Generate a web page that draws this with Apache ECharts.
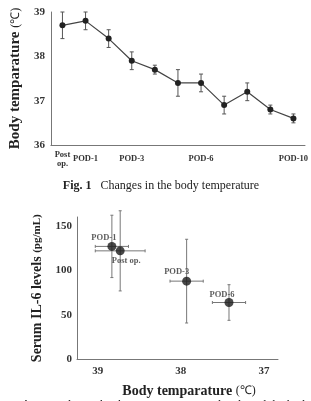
<!DOCTYPE html>
<html><head><meta charset="utf-8">
<script src="https://cdn.jsdelivr.net/npm/echarts@6/dist/echarts.min.js"></script>
<style>html,body{margin:0;padding:0;background:#fff}#c{width:311px;height:401px}</style>
</head><body><div id="c"></div>
<script>
// ---- Fig. 1 data ----
const days = ['Post\nop.','POD-1','POD-2','POD-3','POD-4','POD-5','POD-6','POD-7','POD-8','POD-9','POD-10'];
const shownDayLabels = ['Post\nop.','POD-1','POD-3','POD-6','POD-10'];
const bodyTemp = [38.7, 38.8, 38.4, 37.9, 37.7, 37.4, 37.4, 36.9, 37.2, 36.8, 36.6];
const bodyTempErr = [0.3, 0.2, 0.2, 0.2, 0.1, 0.3, 0.2, 0.2, 0.2, 0.1, 0.1];
const tempTicks = [36, 37, 38, 39];
// ---- Fig. 2 data ----
const ilNames = ['POD-1','Post op.','POD-3','POD-6'];
const ilTemp = [38.83, 38.73, 37.93, 37.42];
const ilTempErr = [0.2, 0.3, 0.2, 0.2];
const ilLevel = [127, 122, 88, 64];
const ilLevelErr = [35, 45, 47, 20];
const ilTicks = [0, 50, 100, 150];
const tempTicks2 = [37, 38, 39];

const serif = 'Liberation Serif';
const labelOffsets = {'POD-1':[-8,-9],'Post op.':[6,10],'POD-3':[-10,-9],'POD-6':[-7,-8]};

const chart = echarts.init(document.getElementById('c'), null, {renderer:'canvas'});

function errTop(params, api){
  const i = api.value(0), v = api.value(1), e = api.value(2);
  const a = api.coord([i, v+e]), b = api.coord([i, v-e]);
  const w = 2;
  const st = {stroke:'#555', lineWidth:1};
  return {type:'group', children:[
    {type:'line', shape:{x1:a[0],y1:a[1],x2:b[0],y2:b[1]}, style:st},
    {type:'line', shape:{x1:a[0]-w,y1:a[1],x2:a[0]+w,y2:a[1]}, style:st},
    {type:'line', shape:{x1:b[0]-w,y1:b[1],x2:b[0]+w,y2:b[1]}, style:st}
  ]};
}
function errBoth(params, api){
  const t = api.value(0), v = api.value(1), te = api.value(2), ve = api.value(3);
  const l = api.coord([t-te, v]), r = api.coord([t+te, v]);
  const u = api.coord([t, v+ve]), d = api.coord([t, v-ve]);
  const w = 1.5;
  const st = {stroke:'#777', lineWidth:1};
  return {type:'group', children:[
    {type:'line', shape:{x1:l[0],y1:l[1],x2:r[0],y2:r[1]}, style:st},
    {type:'line', shape:{x1:l[0],y1:l[1]-w,x2:l[0],y2:l[1]+w}, style:st},
    {type:'line', shape:{x1:r[0],y1:r[1]-w,x2:r[0],y2:r[1]+w}, style:st},
    {type:'line', shape:{x1:u[0],y1:u[1],x2:d[0],y2:d[1]}, style:st},
    {type:'line', shape:{x1:u[0]-w,y1:u[1],x2:u[0]+w,y2:u[1]}, style:st},
    {type:'line', shape:{x1:d[0]-w,y1:d[1],x2:d[0]+w,y2:d[1]}, style:st}
  ]};
}

const axisLineStyle = {lineStyle:{color:'#777', width:1}};

chart.setOption({
  animation:false,
  backgroundColor:'#fff',
  title:[
    {text:'{b|Fig. 1}   Changes in the body temperature', left:156, top:175, textAlign:'center',
     textStyle:{fontFamily:serif, fontSize:12, fontWeight:'normal', color:'#222',
       rich:{b:{fontFamily:serif, fontSize:12, fontWeight:'bold', color:'#222'}}}},
    {text:'Body temparature {u|(℃)}', left:184, top:379, textAlign:'center',
     textStyle:{fontFamily:serif, fontSize:14, fontWeight:'bold', color:'#222',
       rich:{u:{fontFamily:serif, fontSize:12, fontWeight:'normal', color:'#222'}}}},
    {text:'{b|Fig. 2}   Relationship between serum IL-6 levels and the body temperature', left:12, top:395,
     textStyle:{fontFamily:serif, fontSize:12, fontWeight:'normal', color:'#222',
       rich:{b:{fontFamily:serif, fontSize:12, fontWeight:'bold', color:'#222'}}}}
  ],
  grid:[
    {left:41, right:6, top:12, bottom:256},
    {left:77, right:33, top:217, bottom:41.5}
  ],
  xAxis:[
    {type:'category', gridIndex:0, data:days, boundaryGap:true,
     axisLine:axisLineStyle, axisTick:{show:false}, splitLine:{show:false},
     axisLabel:{interval:function(i, v){ return shownDayLabels.indexOf(v) >= 0; },
       fontFamily:serif, fontSize:8.5, fontWeight:'bold', color:'#333', margin:14, verticalAlign:'middle', lineHeight:9}},
    {type:'value', gridIndex:1, inverse:true, min:36.83, max:39.25,
     axisLine:{show:true, lineStyle:{color:'#777', width:1}}, axisTick:{show:false}, splitLine:{show:false},
     axisLabel:{customValues:tempTicks2, fontFamily:serif, fontSize:11, fontWeight:'bold', color:'#333', margin:6}}
  ],
  yAxis:[
    {type:'value', gridIndex:0, min:36, max:39, interval:1,
     axisLine:{show:true, lineStyle:{color:'#777', width:1}}, axisTick:{show:false}, splitLine:{show:false},
     axisLabel:{customValues:tempTicks, fontFamily:serif, fontSize:11, fontWeight:'bold', color:'#333', margin:6},
     name:'Body temparature {u|(℃)}', nameLocation:'middle', nameRotate:90, nameGap:24,
     nameTextStyle:{fontFamily:serif, fontSize:15, fontWeight:'bold', color:'#222',
       rich:{u:{fontFamily:serif, fontSize:12, fontWeight:'normal', color:'#222'}}}},
    {type:'value', gridIndex:1, min:0, max:160,
     axisLine:{show:true, lineStyle:{color:'#777', width:1}}, axisTick:{show:false}, splitLine:{show:false},
     axisLabel:{customValues:ilTicks, fontFamily:serif, fontSize:11, fontWeight:'bold', color:'#333', margin:5},
     name:'Serum IL-6 levels {u|(pg/mL)}', nameLocation:'middle', nameRotate:90, nameGap:29,
     nameTextStyle:{fontFamily:serif, fontSize:14, fontWeight:'bold', color:'#222',
       rich:{u:{fontFamily:serif, fontSize:11, fontWeight:'bold', color:'#222'}}}}
  ],
  series:[
    {type:'custom', xAxisIndex:0, yAxisIndex:0, renderItem:errTop, z:1,
     data:bodyTemp.map((v,i)=>[i, v, bodyTempErr[i]])},
    {type:'line', xAxisIndex:0, yAxisIndex:0, data:bodyTemp, z:2,
     symbol:'circle', symbolSize:6, lineStyle:{color:'#444', width:1.2},
     itemStyle:{color:'#222'}},
    {type:'custom', xAxisIndex:1, yAxisIndex:1, renderItem:errBoth, z:1,
     data:ilTemp.map((t,i)=>[t, ilLevel[i], ilTempErr[i], ilLevelErr[i]])},
    {type:'scatter', xAxisIndex:1, yAxisIndex:1, z:2, symbolSize:9,
     itemStyle:{color:'#1a1a1a'},
     data:ilTemp.map((t,i)=>({value:[t, ilLevel[i]], name:ilNames[i],
       label:{show:true, position:'inside', offset:labelOffsets[ilNames[i]], formatter:'{b}',
         fontFamily:serif, fontSize:8.5, fontWeight:'bold', color:'#333'}}))}
  ]
});
</script></body></html>
